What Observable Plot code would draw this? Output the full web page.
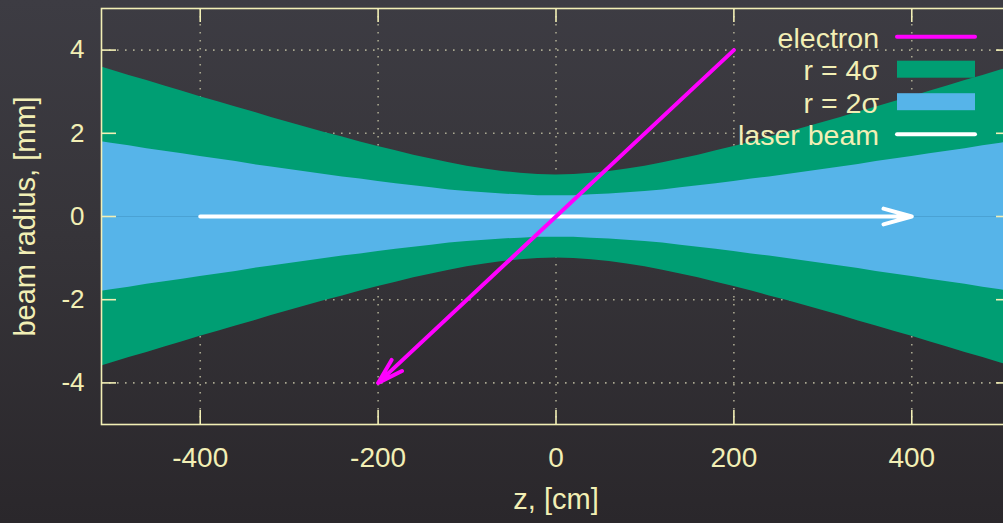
<!DOCTYPE html>
<html><head><meta charset="utf-8">
<script src="https://cdn.jsdelivr.net/npm/d3@7"></script>
<script src="https://cdn.jsdelivr.net/npm/@observablehq/plot@0.6"></script>
<style>
html,body{margin:0;padding:0;width:1003px;height:523px;overflow:hidden;}
body{background:linear-gradient(180deg,#3d3c43 0%,#363439 45%,#2a272b 100%);font-family:"Liberation Sans",Arial,sans-serif;}
#wrap{position:relative;width:1003px;height:523px;overflow:hidden;}
#wrap svg{position:absolute;left:0;top:0;}
</style></head><body><div id="wrap"></div>
<script>
// beam envelope samples (z in cm, radius in mm)
const z  = [-520,-500,-480,-460,-440,-420,-400,-380,-360,-340,-320,-300,-280,-260,-240,-220,-200,-180,-160,-140,-120,-100,-80,-60,-40,-20,0,20,40,60,80,100,120,140,160,180,200,220,240,260,280,300,320,340,360,380,400,420,440,460,480,500,520];
const r4 = [3.65,3.52,3.39,3.27,3.14,3.01,2.88,2.76,2.63,2.51,2.38,2.26,2.14,2.02,1.91,1.79,1.68,1.58,1.47,1.38,1.29,1.21,1.14,1.08,1.04,1.01,1.00,1.01,1.04,1.08,1.14,1.21,1.29,1.38,1.47,1.58,1.68,1.79,1.91,2.02,2.14,2.26,2.38,2.51,2.63,2.76,2.88,3.01,3.14,3.27,3.39,3.52,3.65];
const r2 = [1.83,1.76,1.70,1.63,1.57,1.51,1.44,1.38,1.32,1.25,1.19,1.13,1.07,1.01,0.95,0.90,0.84,0.79,0.74,0.69,0.64,0.60,0.57,0.54,0.52,0.50,0.50,0.50,0.52,0.54,0.57,0.60,0.64,0.69,0.74,0.79,0.84,0.90,0.95,1.01,1.07,1.13,1.19,1.25,1.32,1.38,1.44,1.51,1.57,1.63,1.70,1.76,1.83];

// arrows
const electronZ = [200, -200];
const electronR = [4, -4];
const laserZ = [-400, 400];
const laserR = [0, 0];

const xTicks = [-400, -200, 0, 200, 400];
const yTicks = [-4, -2, 0, 2, 4];
const legendLabels = ["electron", "r = 4σ", "r = 2σ", "laser beam"];
const legendColors = ["#ff00ff", "#009e73", "#56b4e9", "#ffffff"];
const legendKinds = ["line", "box", "box", "line"];

const fg = "#f2efb5";
const gridColor = "#a9a790";

const beam = z.map((v, i) => ({z: v, r4: r4[i], r2: r2[i]}));
const electron = [{x1: electronZ[0], y1: electronR[0], x2: electronZ[1], y2: electronR[1]}];
const laser = [{x1: laserZ[0], y1: laserR[0], x2: laserZ[1], y2: laserR[1]}];

const gridOpts = {stroke: gridColor, strokeOpacity: 1, strokeWidth: 1.6, strokeDasharray: "1.6,6.4"};
const fmt = d => String(d);

const chart = Plot.plot({
  width: 1020, height: 523,
  marginLeft: 101, marginRight: 10, marginTop: 8, marginBottom: 99,
  x: {domain: [-511, 511]},
  y: {domain: [-5, 5]},
  style: {background: "transparent", color: fg, fontFamily: "'Liberation Sans', Arial, sans-serif", fontSize: "26px", maxWidth: "none", overflow: "visible"},
  marks: [
    Plot.gridX(xTicks, gridOpts),
    Plot.gridY(yTicks, gridOpts),
    Plot.areaY(beam, {x: "z", y1: d => -d.r4, y2: "r4", fill: legendColors[1], clip: true}),
    Plot.areaY(beam, {x: "z", y1: d => -d.r2, y2: "r2", fill: legendColors[2], clip: true}),
    Plot.ruleY([0], {stroke: "#4aa2d4", strokeWidth: 1}),
    Plot.arrow(laser, {x1: "x1", y1: "y1", x2: "x2", y2: "y2", stroke: legendColors[3], strokeWidth: 4, headAngle: 31, headLength: 11, strokeLinecap: "round", strokeLinejoin: "round"}),
    Plot.arrow(electron, {x1: "x1", y1: "y1", x2: "x2", y2: "y2", stroke: legendColors[0], strokeWidth: 4, headAngle: 33, headLength: 10, strokeLinecap: "round", strokeLinejoin: "round"}),
    Plot.frame({stroke: fg, strokeWidth: 1.6}),
    Plot.axisX(xTicks, {anchor: "bottom", tickSize: -14, fill: "none", stroke: fg, strokeWidth: 1.6, label: null}),
    Plot.axisX(xTicks, {anchor: "top", tickSize: -13, fill: "none", stroke: fg, strokeWidth: 1.6, label: null}),
    Plot.axisY(yTicks, {anchor: "left", tickSize: -15, fill: "none", stroke: fg, strokeWidth: 1.6, label: null}),
    Plot.axisY(yTicks, {anchor: "right", tickSize: -15, fill: "none", stroke: fg, strokeWidth: 1.6, label: null}),
    Plot.axisX(xTicks, {anchor: "bottom", tickSize: 0, tickPadding: 23, fill: fg, fontSize: 28, tickFormat: fmt, label: null}),
    Plot.axisY(yTicks, {anchor: "left", tickSize: 0, tickPadding: 17, fill: fg, fontSize: 26, tickFormat: fmt, label: null}),
    Plot.text(["z, [cm]"], {frameAnchor: "bottom", dy: 84, fill: fg, fontSize: 29, textAnchor: "middle"}),
    Plot.text(["beam radius, [mm]"], {frameAnchor: "left", dx: -76, rotate: -90, fill: fg, fontSize: 29, textAnchor: "middle"})
  ]
});
const wrap = document.getElementById("wrap");
wrap.appendChild(chart);

// legend overlay (top right, inside the plot frame)
const leg = d3.create("svg").attr("width", 1003).attr("height", 523)
  .style("font-family", "'Liberation Sans', Arial, sans-serif");
legendLabels.forEach((lab, i) => {
  const cy = 36.7 + i * 32.5;
  leg.append("text").attr("x", 879).attr("y", cy + 11).attr("text-anchor", "end")
    .attr("fill", fg).attr("font-size", 28.5).text(lab);
  if (legendKinds[i] === "line") {
    leg.append("line").attr("x1", 897).attr("x2", 975).attr("y1", cy).attr("y2", cy)
      .attr("stroke", legendColors[i]).attr("stroke-width", 4).attr("stroke-linecap", "round");
  } else {
    leg.append("rect").attr("x", 897).attr("y", cy - 8.5).attr("width", 78).attr("height", 17)
      .attr("fill", legendColors[i]);
  }
});
wrap.appendChild(leg.node());
</script></body></html>
